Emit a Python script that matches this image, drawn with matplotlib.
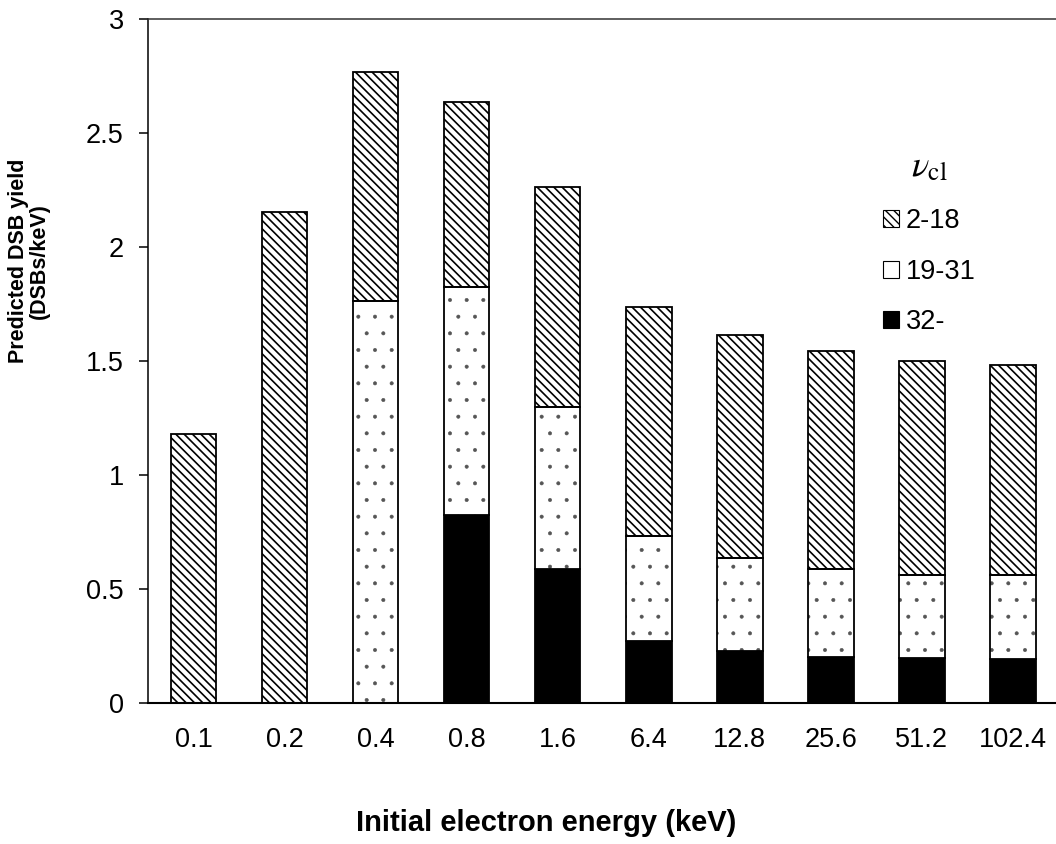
import numpy as np
import matplotlib
matplotlib.use("Agg")
import matplotlib.pyplot as plt
from matplotlib.patches import Patch

# ---- data ----
energies = ["0.1", "0.2", "0.4", "0.8", "1.6", "6.4", "12.8", "25.6", "51.2", "102.4"]
series_labels = ["2-18", "19-31", "32-"]
yield_32 = [0.0, 0.0, 0.0, 0.825, 0.586, 0.272, 0.228, 0.202, 0.199, 0.193]
yield_19_31 = [0.0, 0.0, 1.765, 0.998, 0.714, 0.460, 0.406, 0.387, 0.364, 0.370]
yield_2_18 = [1.180, 2.155, 1.001, 0.814, 0.963, 1.006, 0.980, 0.955, 0.938, 0.919]
y_ticks = [0, 0.5, 1, 1.5, 2, 2.5, 3]

plt.rcParams['font.family'] = ['Liberation Sans', 'DejaVu Sans']
plt.rcParams['mathtext.fontset'] = 'stix'

W, H = 1056, 844
fig = plt.figure(figsize=(W / 100, H / 100), dpi=100)
left_px, right_px, top_px, bot_px = 148, 1058.5, 19, 703
ax = fig.add_axes([left_px / W, 1 - bot_px / H, (right_px - left_px) / W, (bot_px - top_px) / H])

x = np.arange(len(energies))
bw = 0.5
elw = 1.3
b32 = np.array(yield_32)
b19 = np.array(yield_19_31)
b2 = np.array(yield_2_18)

# black segment
ax.bar(x, b32, bw, color='black', edgecolor='black', linewidth=elw, zorder=2)
# dotted segment: fill + grey dots, then black outline
with plt.rc_context({'hatch.linewidth': 0.4}):
    ax.bar(x, b19, bw, bottom=b32, color='white', edgecolor='#555555', linewidth=0,
           hatch='.', zorder=2)
ax.bar(x, b19, bw, bottom=b32, fill=False, edgecolor='black', linewidth=elw, zorder=3)
# hatched segment
with plt.rc_context({'hatch.linewidth': 1.2}):
    ax.bar(x, b2, bw, bottom=b32 + b19, color='white', edgecolor='black', linewidth=elw,
           hatch='\\\\\\\\', zorder=2)

ax.set_xlim(-0.5, len(energies) - 0.5)
ax.set_ylim(0, 3)
ax.set_yticks(y_ticks)
ax.set_yticklabels([f"{t:g}" for t in y_ticks])
ax.set_xticks(x)
ax.set_xticklabels(energies)

ax.tick_params(axis='y', direction='out', length=6.5, width=1.1, pad=11, labelsize=19.5)
ax.tick_params(axis='x', length=0, pad=17, labelsize=19.5)

ax.spines['right'].set_visible(False)
ax.spines['top'].set_linewidth(1.1)
ax.spines['top'].set_color('#333333')
ax.spines['left'].set_linewidth(1.1)
ax.spines['bottom'].set_linewidth(1.5)

ax.set_xlabel("Initial electron energy (keV)", fontsize=21, fontweight='bold')
ax.xaxis.set_label_coords((546 - left_px) / (right_px - left_px), (bot_px - 809) / (bot_px - top_px))
ax.set_ylabel("Predicted DSB yield\n(DSBs/keV)", fontsize=15.5, fontweight='bold', linespacing=1.0)
ax.yaxis.set_label_coords((50 - left_px) / (right_px - left_px), (bot_px - 261) / (bot_px - top_px))

with plt.rc_context({'hatch.linewidth': 1.0}):
    h2 = Patch(facecolor='white', edgecolor='black', linewidth=0.8, hatch='\\\\\\\\')
h19 = Patch(facecolor='white', edgecolor='black', linewidth=0.8)
h32 = Patch(facecolor='black', edgecolor='black', linewidth=0.8)
leg = ax.legend(handles=[h2, h19, h32], labels=series_labels,
                title=r'$\nu_{\mathrm{cl}}$', title_fontsize=26,
                loc='upper left', bbox_to_anchor=(883 / W, 1 - 149 / H),
                bbox_transform=fig.transFigure, frameon=False, fontsize=19.5,
                handlelength=0.6, handleheight=0.6, handletextpad=0.25,
                labelspacing=0.9, borderpad=0, borderaxespad=0)

fig.savefig("out.png", dpi=100)
